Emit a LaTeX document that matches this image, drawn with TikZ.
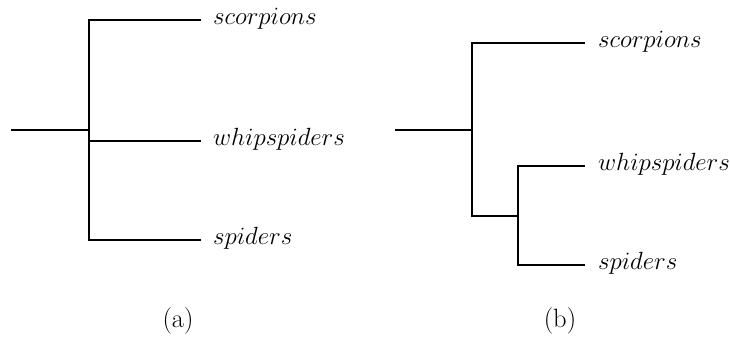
\documentclass[tikz,border=0pt]{standalone}
\begin{document}
\begin{tikzpicture}[x=1pt,y=-1pt,
  branch/.style={line width=2pt,line cap=rect},
  leaf/.style={anchor=mid west,inner sep=0pt,yshift=-2pt,font=\fontsize{26.5}{32}\selectfont},
  caption/.style={anchor=mid,inner sep=0pt,font=\fontsize{26.5}{32}\selectfont}]
\useasboundingbox (0,0) rectangle (730,343);
% tree (a)
\coordinate (ar) at (12,130);
\coordinate (aj) at (89,130);
\coordinate (at) at (89,20);
\coordinate (am) at (89,141);
\coordinate (ab) at (89,240);
\coordinate (a1) at (200,20);
\coordinate (a2) at (200,141);
\coordinate (a3) at (200,240);
\node[leaf] (as) at (213,20) {$scorpions$};
\node[leaf] (aw) at (213,141) {$whipspiders$};
\node[leaf] (asp) at (213,240) {$spiders$};
\draw[branch] (ar) -- (aj);
\draw[branch] (a1) -- (at) -- (ab) -- (a3);
\draw[branch] (am) -- (a2);
\node[caption] (la) at (178,325) {(a)};
% tree (b)
\coordinate (br) at (396,130);
\coordinate (bj) at (472,130);
\coordinate (bt) at (472,43);
\coordinate (bb) at (472,216);
\coordinate (cj) at (518,216);
\coordinate (ct) at (518,166);
\coordinate (cb) at (518,265);
\coordinate (b1) at (584,43);
\coordinate (b2) at (584,166);
\coordinate (b3) at (584,265);
\node[leaf] (bs) at (598,43) {$scorpions$};
\node[leaf] (bw) at (598,166) {$whipspiders$};
\node[leaf] (bsp) at (598,265) {$spiders$};
\draw[branch] (br) -- (bj);
\draw[branch] (b1) -- (bt) -- (bb) -- (cj);
\draw[branch] (b2) -- (ct) -- (cb) -- (b3);
\node[caption] (lb) at (560,325) {(b)};
\end{tikzpicture}
\end{document}
